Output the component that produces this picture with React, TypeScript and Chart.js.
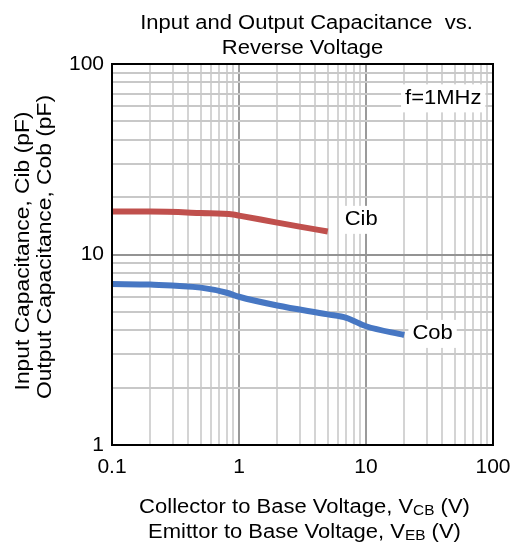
import { useEffect, useRef } from 'react';
import { Chart, registerables } from 'chart.js';
Chart.register(...registerables);

const FONT = '"Liberation Sans", Arial, Helvetica, sans-serif';
const STRETCH = 1.1;

// Reverse voltage (V) and capacitance (pF)
const cibVoltage = [0.1, 0.2, 0.5, 0.9, 1, 2, 3, 5];
const cibCap = [16.8, 16.8, 16.5, 16.2, 16.0, 14.7, 14.0, 13.2];
const cobVoltage = [0.1, 0.2, 0.5, 0.8, 1, 2, 5, 7, 10, 20];
const cobCap = [7.0, 6.95, 6.7, 6.3, 6.0, 5.4, 4.85, 4.65, 4.2, 3.78];

const xMajorTicks = [0.1, 1, 10, 100];
const xTickLabels = ['0.1', '1', '10', '100'];
const yMajorTicks = [1, 10, 100];
const yTickLabels = ['1', '10', '100'];

const titleLines = ['Input and Output Capacitance  vs.', 'Reverse Voltage'];
const yTitleLines = ['Input Capacitance, Cib (pF)', 'Output Capacitance, Cob (pF)'];
const xTitleLines = [
  ['Collector to Base Voltage, V', 'CB', ' (V)'],
  ['Emittor to Base Voltage, V', 'EB', ' (V)'],
];
// text annotations placed in data coordinates
const annotations = [
  { text: 'Cib', x: 6.8, y: 15.2 },
  { text: 'Cob', x: 23.2, y: 3.83 },
  { text: 'f=1MHz', x: 20.3, y: 66 },
];

const CIB_COLOR = '#C0504D';
const COB_COLOR = '#4777C3';

function withMinors(majors: number[]) {
  const out: number[] = [];
  for (let i = 0; i < majors.length; i++) {
    out.push(majors[i]);
    if (i < majors.length - 1) {
      for (let m = 2; m <= 9; m++) out.push(majors[i] * m);
    }
  }
  return out;
}

const isMajor = (v: number) => {
  const l = Math.log10(v);
  return Math.abs(l - Math.round(l)) < 1e-9;
};

function sText(ctx: any, text: string, x: number, y: number, align: string, stretch = STRETCH) {
  ctx.save();
  ctx.translate(x, y);
  ctx.scale(stretch, 1);
  ctx.textAlign = align;
  ctx.fillText(text, 0, 0);
  ctx.restore();
}

const decorPlugin = {
  id: 'decor',
  afterDraw(chart: any) {
    const { ctx, chartArea } = chart;
    const { left, right, top, bottom } = chartArea;
    const cx = (left + right) / 2;
    ctx.save();
    ctx.fillStyle = '#000';
    ctx.textBaseline = 'alphabetic';

    // title
    ctx.font = `20px ${FONT}`;
    sText(ctx, titleLines[0], cx + 4, 29, 'center');
    sText(ctx, titleLines[1], cx, 54, 'center');

    // y title (rotated)
    const cy = 251;
    ctx.save();
    ctx.translate(29, cy);
    ctx.rotate(-Math.PI / 2);
    ctx.font = `20px ${FONT}`;
    sText(ctx, yTitleLines[0], 0, 0, 'center', 1.14);
    ctx.restore();
    ctx.save();
    ctx.translate(51, cy - 4);
    ctx.rotate(-Math.PI / 2);
    ctx.font = `20px ${FONT}`;
    sText(ctx, yTitleLines[1], 0, 0, 'center', 1.14);
    ctx.restore();

    // x title with subscripts
    const baselines = [513, 538];
    xTitleLines.forEach((parts, i) => {
      ctx.font = `20px ${FONT}`;
      const w0 = ctx.measureText(parts[0]).width * STRETCH;
      const w2 = ctx.measureText(parts[2]).width * STRETCH;
      ctx.font = `14px ${FONT}`;
      const w1 = ctx.measureText(parts[1]).width * STRETCH;
      let x = cx + 2 - (w0 + w1 + w2) / 2;
      ctx.font = `20px ${FONT}`;
      sText(ctx, parts[0], x, baselines[i], 'left');
      x += w0;
      ctx.font = `14px ${FONT}`;
      sText(ctx, parts[1], x, baselines[i] + 2, 'left');
      x += w1;
      ctx.font = `20px ${FONT}`;
      sText(ctx, parts[2], x, baselines[i], 'left');
    });

    // frame
    ctx.strokeStyle = '#000';
    ctx.lineWidth = 2;
    ctx.strokeRect(left, top, right - left, bottom - top);
    ctx.restore();
  },
  beforeDatasetsDraw(chart: any) {
    const { ctx, scales } = chart;
    ctx.save();
    ctx.font = `20px ${FONT}`;
    ctx.textBaseline = 'middle';
    annotations.forEach((a) => {
      const px = scales.x.getPixelForValue(a.x);
      const py = scales.y.getPixelForValue(a.y);
      const w = ctx.measureText(a.text).width * STRETCH;
      ctx.fillStyle = '#fff';
      ctx.fillRect(px - 4, py - 14, w + 8, 28);
      ctx.fillStyle = '#000';
      sText(ctx, a.text, px, py, 'left');
    });
    ctx.restore();
  },
};

export default function App() {
  const ref = useRef<HTMLCanvasElement | null>(null);
  useEffect(() => {
    if (!ref.current) return;
    const chart = new Chart(ref.current, {
      type: 'line',
      data: {
        datasets: [
          {
            label: 'Cib',
            data: cibVoltage.map((v, i) => ({ x: v, y: cibCap[i] })),
            borderColor: CIB_COLOR,
            borderWidth: 6,
            pointRadius: 0,
            cubicInterpolationMode: 'monotone',
            borderCapStyle: 'butt',
          },
          {
            label: 'Cob',
            data: cobVoltage.map((v, i) => ({ x: v, y: cobCap[i] })),
            borderColor: COB_COLOR,
            borderWidth: 6,
            pointRadius: 0,
            cubicInterpolationMode: 'monotone',
            borderCapStyle: 'butt',
          },
        ],
      },
      options: {
        responsive: false,
        animation: false,
        layout: { padding: { top: 64, right: 18, left: 0, bottom: 0 } },
        plugins: { legend: { display: false }, tooltip: { enabled: false }, title: { display: false } },
        scales: {
          x: {
            type: 'logarithmic',
            min: 0.1,
            max: 100,
            afterBuildTicks: (s: any) => {
              s.ticks = withMinors(xMajorTicks).map((v) => ({ value: v }));
            },
            afterFit: (s: any) => {
              s.height = 100;
              s.paddingLeft = 0;
              s.paddingRight = 0;
            },
            ticks: {
              autoSkip: false,
              maxRotation: 0,
              padding: 10,
              color: '#000',
              font: { family: FONT, size: 21 },
              callback: (v: any) => {
                const i = xMajorTicks.findIndex((m) => Math.abs(m - v) < 1e-9);
                return i >= 0 ? xTickLabels[i] : '';
              },
            },
            grid: {
              drawTicks: false,
              color: (c: any) => (c.tick && isMajor(c.tick.value) ? '#9a9a9a' : '#d4d4d4'),
              lineWidth: 2,
            },
            border: { display: false },
          },
          y: {
            type: 'logarithmic',
            min: 1,
            max: 100,
            afterBuildTicks: (s: any) => {
              s.ticks = withMinors(yMajorTicks).map((v) => ({ value: v }));
            },
            afterFit: (s: any) => {
              s.width = 112;
              s.paddingTop = 0;
              s.paddingBottom = 0;
            },
            ticks: {
              autoSkip: false,
              padding: 8,
              color: '#000',
              font: { family: FONT, size: 21 },
              callback: (v: any) => {
                const i = yMajorTicks.findIndex((m) => Math.abs(m - v) < 1e-9);
                return i >= 0 ? yTickLabels[i] : '';
              },
            },
            grid: {
              drawTicks: false,
              color: (c: any) => (c.tick && isMajor(c.tick.value) ? '#939393' : '#c8c8c8'),
              lineWidth: 2,
            },
            border: { display: false },
          },
        },
      },
      plugins: [decorPlugin],
    } as any);
    return () => chart.destroy();
  }, []);
  return (
    <div style={{ position: 'fixed', left: 0, top: 0, width: 511, height: 545, background: '#fff' }}>
      <canvas ref={ref} width={511} height={545} style={{ display: 'block' }} />
    </div>
  );
}
